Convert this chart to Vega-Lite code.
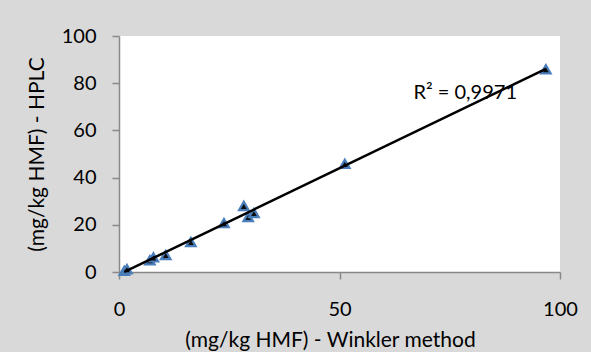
{
  "$schema": "https://vega.github.io/schema/vega-lite/v6.json",
  "width": 441,
  "height": 236,
  "autosize": {"type": "none"},
  "padding": {"left": 119, "top": 36, "right": 31, "bottom": 80},
  "background": "#d9d9d9",
  "view": {"fill": "white", "stroke": null},
  "config": {
    "font": "Lato",
    "axis": {
      "grid": false,
      "domainColor": "#898989",
      "domainWidth": 1.5,
      "tickColor": "#898989",
      "tickWidth": 1.5,
      "tickSize": 7,
      "labelFlush": false,
      "labelFont": "Lato",
      "labelFontSize": 20,
      "labelColor": "black",
      "titleFont": "Lato",
      "titleFontSize": 21,
      "titleFontWeight": "normal",
      "titleColor": "black"
    }
  },
  "data": {
    "values": [
      {"x": 1.2, "y": 0.5},
      {"x": 1.8, "y": 1.2},
      {"x": 7.0, "y": 5.0},
      {"x": 7.8, "y": 6.2},
      {"x": 10.6, "y": 7.2},
      {"x": 16.3, "y": 12.7},
      {"x": 23.8, "y": 20.7},
      {"x": 28.3, "y": 28.0},
      {"x": 29.3, "y": 23.3},
      {"x": 30.6, "y": 25.0},
      {"x": 51.2, "y": 45.8},
      {"x": 96.8, "y": 85.9}
    ]
  },
  "layer": [
    {
      "mark": {"type": "point", "shape": "triangle-up", "filled": true, "fill": "#0d0d0d", "stroke": "#4a7ebb", "strokeWidth": 2.2, "size": 90, "opacity": 1},
      "encoding": {
        "x": {"field": "x", "type": "quantitative", "scale": {"domain": [0, 100], "nice": false},
              "axis": {"values": [0, 50, 100], "title": "(mg/kg HMF) - Winkler method", "labelPadding": 20, "titlePadding": 10, "titleX": 211}},
        "y": {"field": "y", "type": "quantitative", "scale": {"domain": [0, 100], "nice": false},
              "axis": {"values": [0, 20, 40, 60, 80, 100], "title": "(mg/kg HMF) - HPLC", "labelPadding": 16, "titlePadding": 14}}
      }
    },
    {
      "transform": [{"regression": "y", "on": "x"}],
      "mark": {"type": "line", "color": "black", "strokeWidth": 2.5},
      "encoding": {
        "x": {"field": "x", "type": "quantitative"},
        "y": {"field": "y", "type": "quantitative"}
      }
    },
    {
      "data": {"values": [{"x": 78.5, "y": 76, "label": "R² = 0,9971"}]},
      "mark": {"type": "text", "fontSize": 20, "font": "Lato", "color": "black"},
      "encoding": {
        "x": {"field": "x", "type": "quantitative"},
        "y": {"field": "y", "type": "quantitative"},
        "text": {"field": "label"}
      }
    }
  ]
}
